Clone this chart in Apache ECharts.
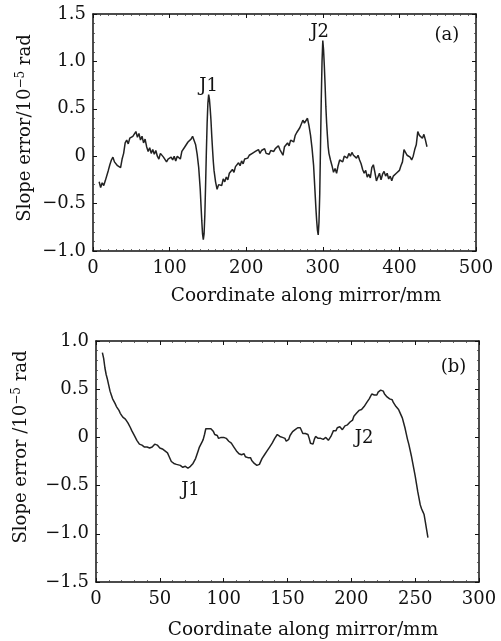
<!DOCTYPE html>
<html>
<head>
<meta charset="utf-8">
<script src="https://cdn.jsdelivr.net/npm/echarts@6/dist/echarts.min.js"></script>
<style>html,body{margin:0;padding:0;background:#fff;}#c{width:501px;height:641px;}</style>
</head>
<body>
<div id="c"></div>
<script>
// ---- Panel (a) ----
const xA = [8,10,12,14,16,18,20,22,24,26,28,30,32,34,36,38,40,42,44,46,48,50,52,54,56,58,60,62,64,66,68,70,72,74,76,78,80,82,84,86,88,90,92,94,96,98,100,102,104,106,108,110,112,114,116,118,120,122,124,126,128,130,132,134,136,138,140,141,142,143,144,145,146,147,148,149,150,151,152,153,154,155,156,157,158,160,162,164,166,168,170,172,174,176,178,180,182,184,186,188,190,192,194,196,198,200,202,204,206,208,210,212,214,216,218,220,222,224,226,228,230,232,234,236,238,240,242,244,246,248,250,252,254,256,258,260,262,264,266,268,270,272,274,276,278,280,282,284,286,288,289,290,291,292,293,294,295,296,297,298,299,300,301,302,303,304,305,306,307,308,310,312,314,316,318,320,322,324,326,328,330,332,334,336,338,340,342,344,346,348,350,352,354,356,358,360,362,364,366,368,370,372,374,376,378,380,382,384,386,388,390,392,394,396,398,400,402,404,406,408,410,412,414,416,418,420,422,424,426,428,430,432,434,436];
const yA = [-0.27,-0.33,-0.28,-0.31,-0.26,-0.27,-0.15,-0.09,-0.04,-0.01,-0.06,-0.05,-0.10,-0.08,-0.12,-0.03,0.03,0.14,0.17,0.13,0.19,0.17,0.21,0.20,0.26,0.20,0.24,0.17,0.21,0.14,0.18,0.10,0.05,0.09,0.03,0.07,0.02,0.06,0.00,-0.03,0.03,0.05,-0.01,0.01,-0.06,-0.03,-0.03,-0.01,-0.04,0.00,-0.05,0.00,0.02,-0.03,0.05,0.06,0.10,0.08,0.15,0.13,0.18,0.21,0.19,0.12,0.02,-0.12,-0.35,-0.52,-0.68,-0.82,-0.88,-0.82,-0.62,-0.30,0.05,0.35,0.56,0.65,0.60,0.50,0.38,0.22,0.08,-0.05,-0.15,-0.27,-0.35,-0.30,-0.28,-0.31,-0.24,-0.27,-0.22,-0.25,-0.18,-0.20,-0.14,-0.17,-0.11,-0.13,-0.07,-0.10,-0.05,-0.08,-0.03,-0.05,-0.02,0.01,0.00,0.03,0.02,0.05,0.04,0.07,0.03,0.06,0.04,0.08,0.03,0.05,0.02,0.06,0.04,0.05,0.08,0.06,0.11,0.07,0.09,0.01,0.10,0.08,0.14,0.11,0.17,0.19,0.15,0.22,0.25,0.27,0.30,0.34,0.38,0.35,0.33,0.40,0.32,0.22,0.08,-0.10,-0.25,-0.40,-0.55,-0.68,-0.78,-0.83,-0.70,-0.40,0.10,0.60,1.00,1.22,1.12,0.95,0.75,0.52,0.35,0.22,0.10,0.03,-0.04,-0.10,-0.17,-0.13,-0.18,-0.10,-0.04,-0.02,-0.06,0.00,0.02,-0.02,0.03,0.00,0.04,0.01,0.03,-0.02,0.01,-0.04,-0.08,-0.14,-0.18,-0.15,-0.22,-0.19,-0.23,-0.12,-0.09,-0.17,-0.26,-0.22,-0.18,-0.25,-0.19,-0.16,-0.21,-0.18,-0.24,-0.21,-0.26,-0.21,-0.19,-0.18,-0.16,-0.15,-0.10,-0.06,0.07,0.05,0.01,0.03,-0.01,-0.04,0.00,0.07,0.12,0.26,0.22,0.24,0.19,0.23,0.17,0.10];

// ---- Panel (b) ----
const xB = [5,6,7,8,9,10,11,12,13,14,15,16,17,18,19,20,21,22,23,24,25,26,27,28,29,30,31,32,33,34,35,36,37,38,39,40,41,42,43,44,45,46,47,48,49,50,52,54,56,57,58,59,60,61,62,63,64,66,68,70,72,73,74,75,76,77,78,79,80,81,82,83,84,85,86,87,88,89,90,91,92,93,94,95,96,97,98,99,100,101,102,103,104,105,106,107,108,109,110,111,112,113,114,115,116,117,118,119,120,121,122,123,124,125,126,127,128,129,130,131,132,133,134,135,136,137,138,139,140,141,142,143,144,145,146,147,148,149,150,151,152,153,154,155,156,157,158,159,160,161,162,163,164,165,166,167,168,169,170,171,172,173,174,175,176,177,178,179,180,181,182,183,184,185,186,187,188,189,190,191,192,193,194,195,196,197,198,199,200,201,202,203,204,205,206,207,208,209,210,211,212,213,214,215,216,217,218,219,220,221,222,223,224,225,226,227,228,229,230,231,232,233,234,235,236,237,238,239,240,241,242,243,244,245,246,247,248,249,250,251,252,253,254,255,256,257,258,259,260];
const yB = [0.88,0.82,0.72,0.65,0.60,0.54,0.48,0.44,0.40,0.38,0.35,0.32,0.30,0.28,0.25,0.24,0.21,0.22,0.19,0.20,0.15,0.13,0.10,0.07,0.05,0.02,0.01,-0.03,-0.04,-0.07,-0.06,-0.08,-0.08,-0.10,-0.09,-0.10,-0.12,-0.11,-0.13,-0.10,-0.09,-0.07,-0.09,-0.08,-0.10,-0.11,-0.12,-0.14,-0.16,-0.19,-0.21,-0.25,-0.24,-0.27,-0.26,-0.28,-0.30,-0.29,-0.31,-0.30,-0.32,-0.33,-0.30,-0.31,-0.27,-0.28,-0.22,-0.18,-0.14,-0.10,-0.08,-0.05,-0.02,0.03,0.09,0.10,0.09,0.08,0.09,0.07,0.06,0.03,0.01,0.02,-0.01,0.01,0.00,0.01,0.00,0.01,-0.01,-0.02,-0.04,-0.05,-0.06,-0.08,-0.10,-0.11,-0.14,-0.15,-0.17,-0.16,-0.18,-0.19,-0.17,-0.20,-0.19,-0.21,-0.20,-0.21,-0.24,-0.25,-0.27,-0.28,-0.29,-0.28,-0.28,-0.26,-0.22,-0.20,-0.18,-0.17,-0.14,-0.13,-0.10,-0.09,-0.06,-0.04,-0.01,0.01,0.03,0.02,0.01,0.02,0.00,0.01,-0.01,-0.04,-0.06,-0.02,0.02,0.03,0.06,0.05,0.08,0.09,0.10,0.11,0.10,0.08,0.04,0.02,0.04,0.06,0.03,-0.01,-0.06,-0.08,-0.07,-0.02,0.01,0.02,-0.01,-0.03,-0.01,0.01,-0.02,-0.01,0.00,-0.02,-0.03,-0.01,0.01,0.03,0.07,0.08,0.07,0.10,0.09,0.11,0.10,0.08,0.10,0.12,0.10,0.13,0.11,0.16,0.15,0.18,0.22,0.24,0.25,0.27,0.28,0.27,0.29,0.30,0.32,0.33,0.36,0.37,0.40,0.41,0.45,0.43,0.44,0.46,0.44,0.47,0.46,0.49,0.50,0.48,0.45,0.43,0.42,0.42,0.40,0.38,0.39,0.36,0.34,0.32,0.30,0.29,0.26,0.24,0.20,0.15,0.10,0.04,-0.02,-0.07,-0.13,-0.19,-0.26,-0.33,-0.40,-0.48,-0.56,-0.63,-0.70,-0.74,-0.77,-0.80,-0.88,-0.96,-1.04];

// ---- Tick settings / labels ----
const xTicksA = [0, 500, 100];
const yTicksA = [-1.0, 1.5, 0.5];
const xTicksB = [0, 300, 50];
const yTicksB = [-1.5, 1.0, 0.5];
const annA = [['J1', 151, 0.74], ['J2', 296, 1.31], ['(a)', 462, 1.28]];
const annB = [['J1', 74, -0.55], ['J2', 210, -0.01], ['(b)', 280, 0.73]];
const xTitle = 'Coordinate along mirror/mm';
const yTitleA = 'Slope error/10{sup|\u22125} rad';
const yTitleB = 'Slope error /10{sup|\u22125} rad';

const FONT = '"DejaVu Serif", "Liberation Serif", serif';
const INK = '#111';

function fmtY(v) {
  if (Math.abs(v) < 1e-9) return '0';
  return (v < 0 ? '\u2212' : '') + Math.abs(v).toFixed(1);
}
function fmtX(v) { return String(Math.round(v)); }

function xAxes(grid, t, minorSplit) {
  const base = {
    type: 'value', gridIndex: grid, min: t[0], max: t[1], interval: t[2],
    axisLine: { show: true, onZero: false, lineStyle: { color: INK, width: 1.5 } },
    axisTick: { show: true, inside: true, length: 4, lineStyle: { color: INK, width: 1 } },
    minorTick: { show: true, splitNumber: minorSplit, length: 2, lineStyle: { color: '#444', width: 0.8 } },
    splitLine: { show: false }, minorSplitLine: { show: false }
  };
  return [
    Object.assign({}, base, { position: 'bottom',
      axisLabel: { show: true, margin: 8, color: INK, fontFamily: FONT, fontSize: 18, formatter: fmtX } }),
    Object.assign({}, base, { position: 'top', axisLabel: { show: false } })
  ];
}
function yAxes(grid, t) {
  const base = {
    type: 'value', gridIndex: grid, min: t[0], max: t[1], interval: t[2],
    axisLine: { show: true, onZero: false, lineStyle: { color: INK, width: 1.5 } },
    axisTick: { show: true, inside: true, length: 4, lineStyle: { color: INK, width: 1 } },
    minorTick: { show: true, splitNumber: 5, length: 2, lineStyle: { color: '#444', width: 0.8 } },
    splitLine: { show: false }, minorSplitLine: { show: false }
  };
  return [
    Object.assign({}, base, { position: 'left',
      axisLabel: { show: true, margin: 7, color: INK, fontFamily: FONT, fontSize: 18, formatter: fmtY } }),
    Object.assign({}, base, { position: 'right', axisLabel: { show: false } })
  ];
}
function annSeries(ann, xi, yi) {
  return {
    type: 'scatter', xAxisIndex: xi, yAxisIndex: yi, symbol: 'circle', symbolSize: 0,
    itemStyle: { color: '#fff' }, silent: true, z: 5,
    data: ann.map(a => ({ name: a[0], value: [a[1], a[2]] })),
    label: { show: true, position: 'inside', formatter: p => p.name, opacity: 1,
      color: INK, textBorderWidth: 0, textShadowBlur: 0,
      fontFamily: FONT, fontSize: 18 },
    emphasis: { disabled: true }
  };
}

const chart = echarts.init(document.getElementById('c'), null, { renderer: 'canvas' });
const option = {
  backgroundColor: '#fff',
  animation: false,
  grid: [
    { left: 93, right: 25, top: 14, bottom: 390 },
    { left: 96, right: 22, top: 341, bottom: 59 }
  ],
  xAxis: xAxes(0, xTicksA, 10).concat(xAxes(1, xTicksB, 5)),
  yAxis: yAxes(0, yTicksA).concat(yAxes(1, yTicksB)),
  series: [
    { type: 'line', xAxisIndex: 0, yAxisIndex: 0, showSymbol: false, symbol: 'none',
      lineStyle: { color: '#222', width: 1.5 }, data: xA.map((x, i) => [x, yA[i]]) },
    { type: 'line', xAxisIndex: 2, yAxisIndex: 2, showSymbol: false, symbol: 'none',
      lineStyle: { color: '#222', width: 1.5 }, data: xB.map((x, i) => [x, yB[i]]) },
    annSeries(annA, 0, 0),
    annSeries(annB, 2, 2)
  ],
  graphic: [
    { type: 'text', x: 306, y: 296, style: { text: xTitle, fill: INK, font: '18.5px ' + FONT, align: 'center', verticalAlign: 'middle' } },
    { type: 'text', x: 303, y: 630, style: { text: xTitle, fill: INK, font: '18.5px ' + FONT, align: 'center', verticalAlign: 'middle' } },
    { type: 'text', x: 25, y: 128, rotation: Math.PI / 2,
      style: { text: yTitleA, fill: INK, font: '18px ' + FONT, align: 'center', verticalAlign: 'middle',
        rich: { sup: { fontSize: 12, fontFamily: FONT, fill: INK, padding: [0, 0, 9, 0] } } } },
    { type: 'text', x: 21, y: 447, rotation: Math.PI / 2,
      style: { text: yTitleB, fill: INK, font: '18px ' + FONT, align: 'center', verticalAlign: 'middle',
        rich: { sup: { fontSize: 12, fontFamily: FONT, fill: INK, padding: [0, 0, 9, 0] } } } }
  ]
};
chart.setOption(option);
</script>
</body>
</html>
